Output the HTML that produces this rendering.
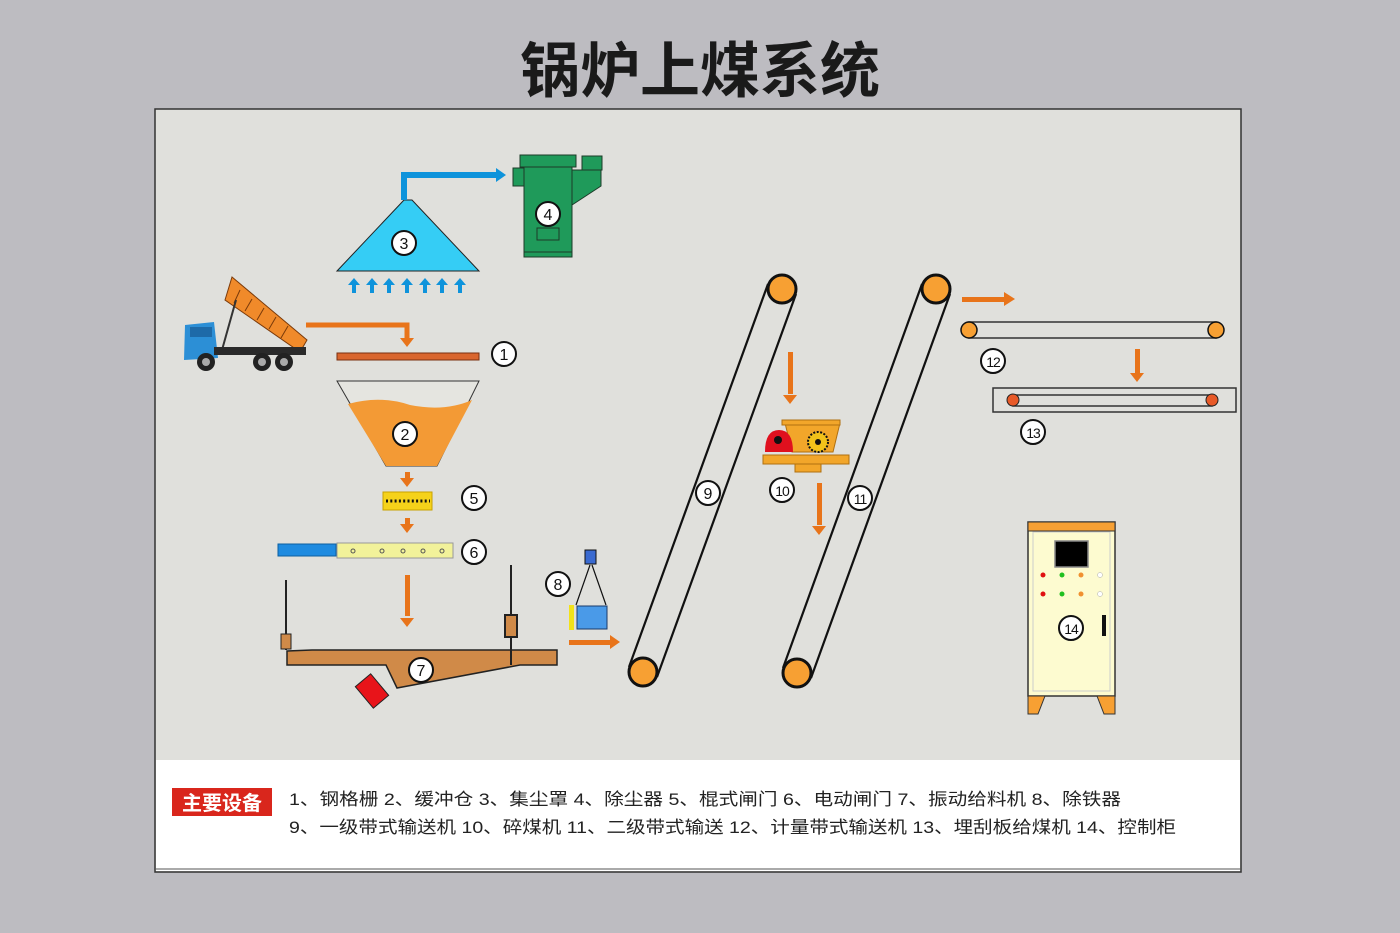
<!DOCTYPE html>
<html><head><meta charset="utf-8"><style>
html,body{margin:0;padding:0;background:#bdbcc1;}
svg{display:block}
text{font-family:"Liberation Sans","Noto Sans CJK SC",sans-serif;}
</style></head><body>
<svg width="1400" height="933" viewBox="0 0 1400 933" xmlns="http://www.w3.org/2000/svg">
<defs>
<g id="ah"><path d="M0,0 L-7,-9 L7,-9 Z" fill="#e8741a"/></g>
</defs>
<rect x="0" y="0" width="1400" height="933" rx="18" fill="#bdbcc1"/>
<text x="700" y="92" text-anchor="middle" font-size="60" font-weight="bold" fill="#1a1a1a" font-family="'Noto Sans CJK SC',sans-serif">锅炉上煤系统</text>
<rect x="155" y="109" width="1086" height="763" fill="#e0e0dc" stroke="#333" stroke-width="1.5"/>
<rect x="156" y="760" width="1084" height="111" fill="#fff"/>
<line x1="155" y1="869" x2="1241" y2="869" stroke="#555" stroke-width="1"/>

<!-- Legend -->
<rect x="172" y="788" width="100" height="28" fill="#d9261c"/>
<text x="222" y="810" text-anchor="middle" font-size="20" font-weight="bold" fill="#fff" font-family="'Noto Sans CJK SC',sans-serif">主要设备</text>
<text x="289" y="805" font-size="17" fill="#222" textLength="832" lengthAdjust="spacingAndGlyphs">1、钢格栅 2、缓冲仓 3、集尘罩 4、除尘器 5、棍式闸门 6、电动闸门 7、振动给料机 8、除铁器</text>
<text x="289" y="833" font-size="17" fill="#222" textLength="887" lengthAdjust="spacingAndGlyphs">9、一级带式输送机 10、碎煤机 11、二级带式输送 12、计量带式输送机 13、埋刮板给煤机 14、控制柜</text>

<!-- 3 dust hood -->
<path d="M337,271 L404,200 L412,200 L479,271 Z" fill="#35cdf5" stroke="#222" stroke-width="1"/>
<path d="M404,200 L404,175 L498,175" fill="none" stroke="#0e93db" stroke-width="6"/>
<path d="M506,175 L496,168 L496,182 Z" fill="#0e93db"/>
<g fill="#0e93db">
<g id="ua"><rect x="352" y="284" width="4" height="9"/><path d="M348,285 L354,278 L360,285 Z"/></g>
<use href="#ua" x="18"/><use href="#ua" x="35"/><use href="#ua" x="53"/><use href="#ua" x="71"/><use href="#ua" x="88"/><use href="#ua" x="106"/>
</g>

<!-- 4 dust collector -->
<g stroke="#1c3b28" stroke-width="1">
<rect x="524" y="160" width="48" height="97" fill="#1f9a5a"/>
<rect x="520" y="155" width="56" height="12" fill="#1f9a5a"/>
<path d="M572,170 L601,170 L601,186 L572,205 Z" fill="#1f9a5a"/>
<rect x="582" y="156" width="20" height="14" fill="#1f9a5a"/>
<rect x="513" y="168" width="11" height="18" fill="#1f9a5a"/>
<rect x="537" y="228" width="22" height="12" fill="none"/>
<line x1="524" y1="252" x2="572" y2="252"/>
</g>

<!-- truck -->
<g>
<path d="M232,277 L307,340 L300,352 L225,300 Z" fill="#f08a2a" stroke="#7a3a0a" stroke-width="1"/>
<g stroke="#7a3a0a" stroke-width="1"><line x1="240" y1="290" x2="234" y2="303"/><line x1="252" y1="299" x2="245" y2="311"/><line x1="264" y1="308" x2="257" y2="320"/><line x1="276" y1="317" x2="269" y2="329"/><line x1="288" y1="326" x2="281" y2="338"/></g>
<line x1="222" y1="350" x2="236" y2="300" stroke="#333" stroke-width="2"/>
<path d="M185,325 L214,322 L218,358 L184,360 Z" fill="#2c8fd6"/>
<rect x="190" y="327" width="22" height="10" fill="#1e6aa8"/>
<rect x="214" y="347" width="92" height="8" fill="#2a2a2a"/>
<g fill="#222"><circle cx="206" cy="362" r="9"/><circle cx="262" cy="362" r="9"/><circle cx="284" cy="362" r="9"/></g>
<g fill="#aaa"><circle cx="206" cy="362" r="4"/><circle cx="262" cy="362" r="4"/><circle cx="284" cy="362" r="4"/></g>
</g>
<path d="M306,325 L407,325 L407,338" fill="none" stroke="#e8741a" stroke-width="5"/>
<use href="#ah" x="407" y="347"/>

<!-- 1 grate -->
<rect x="337" y="353" width="142" height="7" fill="#d9662e" stroke="#7a3010" stroke-width="1"/>

<!-- 2 bin -->
<path d="M337,381 L479,381 L437,466 L386,466 Z" fill="#e5e5e0" stroke="#333" stroke-width="1"/>
<path d="M348,404 Q380,395 410,405 Q445,412 472,400 L437,466 L386,466 Z" fill="#f39a35"/>
<use href="#ah" x="407" y="487"/><rect x="405" y="472" width="5" height="7" fill="#e8741a"/>
<!-- 5 -->
<rect x="383" y="492" width="49" height="18" fill="#f5d21a" stroke="#c9a200" stroke-width="1"/>
<line x1="386" y1="501" x2="430" y2="501" stroke="#111" stroke-width="3" stroke-dasharray="2,2.3"/>
<use href="#ah" x="407" y="533"/><rect x="405" y="518" width="5" height="7" fill="#e8741a"/>
<!-- 6 -->
<rect x="278" y="544" width="58" height="12" fill="#1e8be0" stroke="#0d5fa0" stroke-width="1"/>
<rect x="337" y="543" width="116" height="15" fill="#f2f29a" stroke="#999" stroke-width="1"/>
<g fill="none" stroke="#555"><circle cx="353" cy="551" r="2"/><circle cx="382" cy="551" r="2"/><circle cx="403" cy="551" r="2"/><circle cx="423" cy="551" r="2"/><circle cx="442" cy="551" r="2"/></g>
<rect x="405" y="575" width="5" height="41" fill="#e8741a"/><use href="#ah" x="407" y="627"/>

<!-- 7 feeder -->
<path d="M287,651 L312,650 L557,650 L557,665 L520,665 L397,688 L386,665 L287,665 Z" fill="#d08a48" stroke="#222" stroke-width="1.5"/>
<g stroke="#222" stroke-width="2"><line x1="286" y1="580" x2="286" y2="650"/><line x1="511" y1="565" x2="511" y2="665"/></g>
<rect x="281" y="634" width="10" height="15" fill="#d08a48" stroke="#222"/>
<rect x="505" y="615" width="12" height="22" fill="#d08a48" stroke="#222" stroke-width="2"/>
<rect x="362" y="677" width="20" height="28" fill="#e8141a" stroke="#222" transform="rotate(-40 372 691)"/>
<!-- 8 -->
<rect x="577" y="606" width="30" height="23" fill="#4a9ae8" stroke="#1a3a6a"/>
<rect x="569" y="605" width="5" height="25" fill="#f2e21a"/>
<path d="M590,565 L576,605 M592,565 L606,605" stroke="#111" stroke-width="1.2"/>
<rect x="585" y="550" width="11" height="14" fill="#3a6ad0" stroke="#111"/>
<rect x="569" y="640" width="43" height="5" fill="#e8741a"/><path d="M620,642 L610,635 L610,649 Z" fill="#e8741a"/>

<!-- conveyors 9, 11 -->
<g stroke="#111" stroke-width="2.2" fill="none">
<line x1="629" y1="667" x2="768" y2="284"/><line x1="657" y1="677" x2="796" y2="294"/>
<line x1="783" y1="668" x2="922" y2="284"/><line x1="811" y1="678" x2="950" y2="294"/>
</g>
<g fill="#f7a033" stroke="#111" stroke-width="3">
<circle cx="782" cy="289" r="14"/><circle cx="643" cy="672" r="14"/>
<circle cx="936" cy="289" r="14"/><circle cx="797" cy="673" r="14"/>
</g>
<rect x="788" y="352" width="5" height="42" fill="#e8741a"/><use href="#ah" x="790" y="404"/>
<rect x="817" y="483" width="5" height="42" fill="#e8741a"/><use href="#ah" x="819" y="535"/>

<!-- 10 crusher -->
<rect x="763" y="455" width="86" height="9" fill="#f2a62a" stroke="#b07010" stroke-width="1"/>
<path d="M785,423 L840,423 L833,452 L792,452 Z" fill="#f2a62a" stroke="#b07010"/>
<rect x="782" y="420" width="58" height="5" fill="#f2a62a" stroke="#b07010"/>
<rect x="795" y="464" width="26" height="8" fill="#f2a62a" stroke="#b07010"/>
<path d="M765,452 Q765,430 779,430 Q793,430 793,452 Z" fill="#e0101e"/>
<circle cx="778" cy="440" r="4" fill="#111"/>
<circle cx="818" cy="442" r="10" fill="#f2c21a" stroke="#111" stroke-width="2" stroke-dasharray="2,1.5"/><circle cx="818" cy="442" r="3" fill="#111"/>

<!-- 12, 13 -->
<rect x="962" y="297" width="42" height="5" fill="#e8741a"/><path d="M1015,299 L1004,292 L1004,306 Z" fill="#e8741a"/>
<rect x="969" y="322" width="247" height="16" fill="#e0e0dc" stroke="#333" stroke-width="1.5"/>
<g fill="#f7a033" stroke="#111" stroke-width="1.5"><circle cx="969" cy="330" r="8"/><circle cx="1216" cy="330" r="8"/></g>
<rect x="1135" y="349" width="5" height="24" fill="#e8741a"/><use href="#ah" x="1137" y="382"/>
<rect x="993" y="388" width="243" height="24" fill="none" stroke="#333" stroke-width="1.5"/>
<rect x="1013" y="395" width="199" height="11" fill="none" stroke="#333" stroke-width="1.5"/>
<g fill="#e85a28" stroke="#222" stroke-width="1"><circle cx="1013" cy="400" r="6"/><circle cx="1212" cy="400" r="6"/></g>

<!-- 14 cabinet -->
<rect x="1028" y="522" width="87" height="174" fill="#fdfbd0" stroke="#333" stroke-width="1.5"/>
<rect x="1028" y="522" width="87" height="9" fill="#f7a033" stroke="#333" stroke-width="1"/>
<rect x="1033" y="532" width="77" height="159" fill="none" stroke="#ccc"/>
<rect x="1055" y="541" width="33" height="26" fill="#000" stroke="#888" stroke-width="1.5"/>
<g><circle cx="1043" cy="575" r="2.5" fill="#e01010"/><circle cx="1062" cy="575" r="2.5" fill="#20c020"/><circle cx="1081" cy="575" r="2.5" fill="#f09030"/><circle cx="1100" cy="575" r="2.5" fill="#fff" stroke="#aaa" stroke-width=".5"/>
<circle cx="1043" cy="594" r="2.5" fill="#e01010"/><circle cx="1062" cy="594" r="2.5" fill="#20c020"/><circle cx="1081" cy="594" r="2.5" fill="#f09030"/><circle cx="1100" cy="594" r="2.5" fill="#fff" stroke="#aaa" stroke-width=".5"/></g>
<rect x="1102" y="615" width="4" height="21" fill="#111"/>
<path d="M1028,696 L1045,696 L1038,714 L1028,714 Z M1115,696 L1097,696 L1104,714 L1115,714 Z" fill="#f7a033" stroke="#333"/>

<!-- labels -->
<g font-size="16" text-anchor="middle" fill="#111">
<g fill="#fff" stroke="#111" stroke-width="2">
<circle cx="404" cy="243" r="12"/><circle cx="548" cy="214" r="12"/><circle cx="504" cy="354" r="12"/><circle cx="405" cy="434" r="12"/>
<circle cx="474" cy="498" r="12"/><circle cx="474" cy="552" r="12"/><circle cx="558" cy="584" r="12"/><circle cx="421" cy="670" r="12"/>
<circle cx="708" cy="493" r="12"/><circle cx="782" cy="490" r="12"/><circle cx="860" cy="498" r="12"/><circle cx="993" cy="361" r="12"/>
<circle cx="1033" cy="432" r="12"/><circle cx="1071" cy="628" r="12"/>
</g>
<text x="404" y="249">3</text><text x="548" y="220">4</text><text x="504" y="360">1</text><text x="405" y="440">2</text>
<text x="474" y="504">5</text><text x="474" y="558">6</text><text x="558" y="590">8</text><text x="421" y="676">7</text>
<text x="708" y="499">9</text><text x="782" y="496" font-size="14" letter-spacing="-1">10</text><text x="860" y="504" font-size="14" letter-spacing="-1">11</text><text x="993" y="367" font-size="14" letter-spacing="-1">12</text>
<text x="1033" y="438" font-size="14" letter-spacing="-1">13</text><text x="1071" y="634" font-size="14" letter-spacing="-1">14</text>
</g>
</svg>
</body></html>
